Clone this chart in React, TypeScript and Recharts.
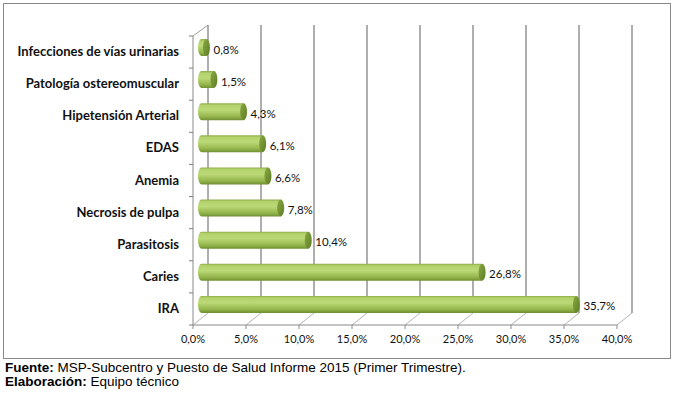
import React from "react";
import {
  BarChart, Bar, XAxis, YAxis, CartesianGrid, LabelList,
} from "recharts";

// categorías de arriba hacia abajo
const categories = [
  "Infecciones de vías urinarias",
  "Patología ostereomuscular",
  "Hipetensión Arterial",
  "EDAS",
  "Anemia",
  "Necrosis de pulpa",
  "Parasitosis",
  "Caries",
  "IRA",
];
const values = [0.8, 1.5, 4.3, 6.1, 6.6, 7.8, 10.4, 26.8, 35.7];
const xTicks = [0, 5, 10, 15, 20, 25, 30, 35, 40];

const data = categories.map((name, i) => ({ name, value: values[i] }));

const pct = (v: number) => `${v.toFixed(1).replace(".", ",")}%`;

// profundidad del efecto 3D
const DX = 15;
const DY = 12;

const GridLine = (props: any) => {
  const { x1, y1, y2, index } = props;
  return (
    <g key={`g-${index}`}>
      <line x1={x1} y1={y2} x2={x1 + DX} y2={y2 - DY} stroke="#b4b4b4" strokeWidth={1} />
      <line x1={x1 + DX} y1={y2 - DY} x2={x1 + DX} y2={y1 - DY + 1} stroke="#9a9a9a" strokeWidth={1.6} />
      {index === 0 && (
        <line x1={x1} y1={y1} x2={x1 + DX} y2={y1 - DY + 1} stroke="#9a9a9a" strokeWidth={1} />
      )}
    </g>
  );
};

const Cylinder = (props: any) => {
  const { x, y, width, height } = props;
  const bx = x + 5;
  const by = y - 5;
  const rx = 3.5;
  const ry = height / 2;
  const w = Math.max(width, 0);
  return (
    <g>
      <path
        d={`M${bx + rx},${by} L${bx + w},${by} L${bx + w},${by + height} L${bx + rx},${by + height} A${rx},${ry} 0 0 1 ${bx + rx},${by} Z`}
        fill="url(#cyl)"
      />
      <ellipse cx={bx + w} cy={by + ry} rx={rx} ry={ry} fill="url(#cap)" />
    </g>
  );
};

const CatTick = (props: any) => {
  const { x, y, payload, index } = props;
  const half = payload && payload.offset ? payload.offset : 16;
  return (
    <g>
      <line x1={x + 4} y1={y - half} x2={x + 8} y2={y - half} stroke="#7f7f7f" />
      {index === categories.length - 1 && (
        <line x1={x + 4} y1={y + half} x2={x + 8} y2={y + half} stroke="#7f7f7f" />
      )}
      <text x={x - 6} y={y} dy={-1} textAnchor="end" dominantBaseline="central"
        fontFamily="Lato, 'Open Sans', sans-serif" fontWeight={700} fontSize={13} fill="#111">
        {payload.value}
      </text>
    </g>
  );
};

export default function App() {
  return (
    <div style={{ position: "relative", width: 675, height: 396, background: "#fff" }}>
      <style>{"body{margin:0}"}</style>
      <div style={{
        position: "absolute", left: 3, top: 3, width: 668, height: 356,
        border: "1px solid #8a8a8a", boxSizing: "border-box",
      }} />
      <div style={{ position: "absolute", left: 0, top: 0 }}>
        <BarChart
          width={675}
          height={396}
          data={data}
          layout="vertical"
          margin={{ top: 36, right: 58, bottom: 41, left: 8 }}
          barSize={17}
        >
          <defs>
            <linearGradient id="cyl" x1="0" y1="0" x2="0" y2="1">
              <stop offset="0" stopColor="#8fae4a" />
              <stop offset="0.12" stopColor="#b3d26c" />
              <stop offset="0.4" stopColor="#bcd977" />
              <stop offset="0.8" stopColor="#93b44b" />
              <stop offset="1" stopColor="#6f8f31" />
            </linearGradient>
            <linearGradient id="cap" x1="0" y1="0" x2="1" y2="1">
              <stop offset="0" stopColor="#89a842" />
              <stop offset="1" stopColor="#5e7d25" />
            </linearGradient>
          </defs>
          <CartesianGrid horizontal={false} vertical={GridLine as any} />
          <XAxis
            type="number"
            domain={[0, 40]}
            ticks={xTicks}
            tickFormatter={pct}
            interval={0}
            height={30}
            axisLine={{ stroke: "#8a8a8a" }}
            tickLine={{ stroke: "#8a8a8a" }}
            tickSize={4}
            tick={{ fontFamily: "Lato, sans-serif", fontSize: 11, fill: "#111" }}
            tickMargin={6}
          />
          <YAxis
            type="category"
            dataKey="name"
            width={185}
            axisLine={{ stroke: "#8a8a8a" }}
            tickLine={false}
            tick={CatTick as any}
            interval={0}
          />
          <Bar dataKey="value" shape={Cylinder} isAnimationActive={false}>
            <LabelList
              dataKey="value"
              position="right"
              offset={12}
              formatter={(v: any) => pct(Number(v))}
              style={{ fontFamily: "Lato, sans-serif", fontSize: 11.5, fill: "#111" }}
              dy={-3}
            />
          </Bar>
        </BarChart>
      </div>
      <div style={{
        position: "absolute", left: 5, top: 361, fontFamily: "'Liberation Sans', Arial, sans-serif",
        fontSize: 13.5, lineHeight: "14px", color: "#000",
      }}>
        <div><b>Fuente:</b> MSP-Subcentro y Puesto de Salud Informe 2015 (Primer Trimestre).</div>
        <div><b>Elaboración:</b> Equipo técnico</div>
      </div>
    </div>
  );
}
